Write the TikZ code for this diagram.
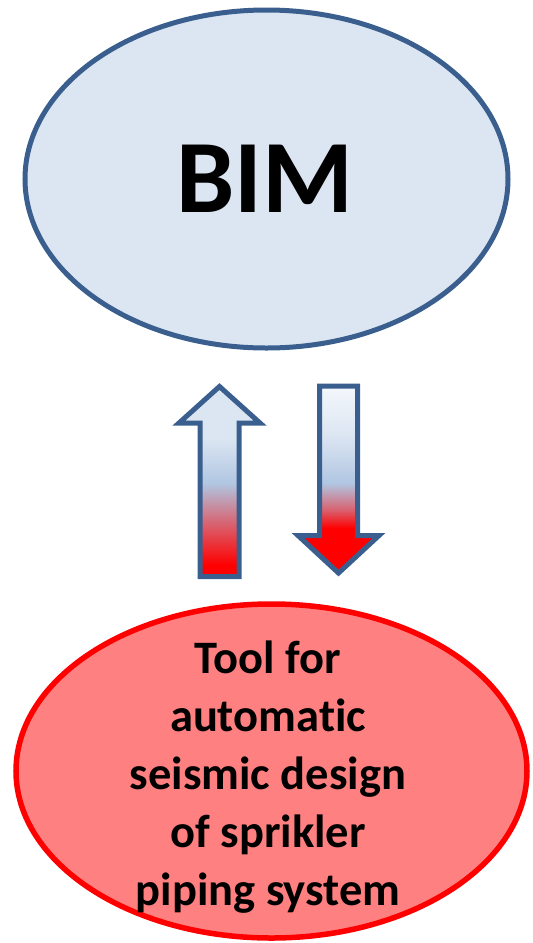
\documentclass[tikz,border=0pt]{standalone}
\usepackage{fontspec}
\setmainfont{Carlito}[Ligatures={NoCommon}]
\usepackage{tikz}
\usepackage{xcolor}
\usetikzlibrary{shapes.geometric}

\definecolor{bimfill}{HTML}{DCE6F2}
\definecolor{bimline}{HTML}{3A5F8E}
\definecolor{toolfill}{HTML}{FF8080}
\definecolor{toolline}{HTML}{FF0000}
\definecolor{shadewhite}{HTML}{F4F7FB}
\definecolor{shadelight}{HTML}{DCE6F2}
\definecolor{shadeblue}{HTML}{B0C6E2}
\definecolor{shadered}{HTML}{FF0000}
\colorlet{shadepink}{shadered!50!shadeblue}

\pgfdeclareverticalshading{upshade}{100bp}{color(0bp)=(shadered); color(28bp)=(shadered); color(39bp)=(shadepink); color(49.5bp)=(shadeblue); color(61.5bp)=(shadelight); color(100bp)=(shadelight)}
\pgfdeclareverticalshading{downshade}{100bp}{color(0bp)=(shadered); color(37bp)=(shadered); color(42bp)=(shadepink); color(49bp)=(shadeblue); color(62bp)=(shadelight); color(75bp)=(shadewhite); color(100bp)=(shadewhite)}

\tikzset{
  bimnode/.style={ellipse, draw=bimline, fill=bimfill, line width=5pt,
    minimum width=483pt, minimum height=338pt, inner sep=0pt,
    font=\fontsize{104}{104}\selectfont\bfseries},
  toolnode/.style={ellipse, draw=toolline, fill=toolfill, line width=5.5pt,
    minimum width=511pt, minimum height=334pt, inner sep=0pt},
  tooltext/.style={align=center, inner sep=0pt,
    font=\fontsize{46.5}{58}\selectfont\bfseries},
  bigarrow/.style={draw=bimline, line width=5pt, line join=miter},
}

\begin{document}
\begin{tikzpicture}[x=1pt, y=-1pt]
\useasboundingbox (0,0) rectangle (533,943);
%% nodes
\node[bimnode] (bim) at (266.5,179) {\hspace*{-4pt}BIM};
\node[toolnode] (tool) at (271.5,771) {};
\node[tooltext] (tooltxt) at (268,777) {Tool for\\automatic\\seismic design\\of sprikler\\piping system};
%% arrows
\shadedraw[bigarrow, shading=upshade] (200,576.5) -- (200,423) -- (179,423) -- (219.5,386.5)
  -- (260,423) -- (239,423) -- (239,576.5) -- cycle;
\shadedraw[bigarrow, shading=downshade] (319.5,386) -- (357.5,386) -- (357.5,535.5) -- (379,535.5)
  -- (338.5,573) -- (298,535.5) -- (319.5,535.5) -- cycle;
\end{tikzpicture}
\end{document}
